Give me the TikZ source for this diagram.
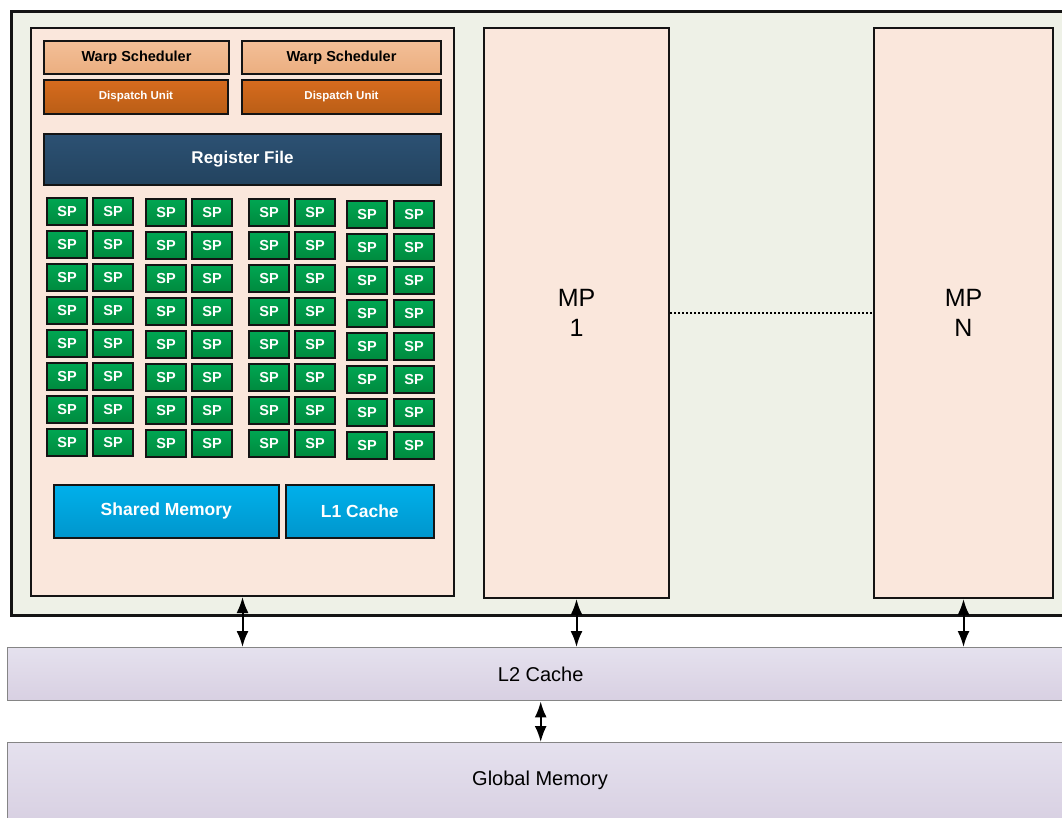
\documentclass[tikz,border=0pt]{standalone}
\usepackage{fontspec}
\setmainfont{Liberation Sans}
\usetikzlibrary{arrows.meta}

\definecolor{gpubg}{HTML}{EEF1E7}
\definecolor{mpbg}{HTML}{FAE7DC}
\definecolor{warptop}{HTML}{F3BF97}
\definecolor{warpbot}{HTML}{EBAE80}
\definecolor{disptop}{HTML}{D66B1E}
\definecolor{dispbot}{HTML}{BA5E16}
\definecolor{regtop}{HTML}{2C5173}
\definecolor{regbot}{HTML}{23435F}
\definecolor{sptop}{HTML}{00A652}
\definecolor{spbot}{HTML}{008A3E}
\definecolor{memtop}{HTML}{00B0EB}
\definecolor{membot}{HTML}{0096CC}
\definecolor{cachetop}{HTML}{E5E1EE}
\definecolor{cachebot}{HTML}{D8D0E2}
\definecolor{cacheline}{HTML}{858585}
\definecolor{edge}{HTML}{141414}

\begin{document}
\begin{tikzpicture}[x=1pt,y=-1pt,
  blk/.style={rectangle, draw=edge, line width=2pt, inner sep=0pt,
    anchor=north west, align=center},
  unit/.style={blk, top color=#1top, bottom color=#1bot},
  warp/.style={unit=warp, font=\fontsize{14.5}{16}\selectfont\bfseries},
  disp/.style={unit=disp, text=white, font=\fontsize{11.5}{13}\selectfont\bfseries},
  reg/.style={unit=reg, text=white, font=\fontsize{17}{19}\selectfont\bfseries},
  spcore/.style={unit=sp, text=white, minimum width=40, minimum height=27,
    font=\fontsize{14.5}{16}\selectfont\bfseries},
  mem/.style={unit=mem, line width=1.6pt, text=white, font=\fontsize{17.5}{19}\selectfont\bfseries},
  mp/.style={blk, fill=mpbg, font=\fontsize{25}{30}\selectfont},
  cache/.style={blk, draw=cacheline, line width=1.4pt, top color=cachetop,
    bottom color=cachebot, font=\fontsize{20}{24}\selectfont},
  link/.style={line width=2pt, {Latex[length=16pt,width=12pt]}-{Latex[length=16pt,width=12pt]}}
]
\useasboundingbox (0,0) rectangle (1062,817);
\fill[white] (0,0) rectangle (1062,817);

% GPU frame holding the multiprocessors
\node[blk, line width=2.6pt, fill=gpubg, minimum width=1070, minimum height=604] (gpu) at (10,10) {};

% multiprocessors
\node[mp, minimum width=423, minimum height=568] (mp0) at (30,27) {};
\node[mp, minimum width=185, minimum height=570] (mp1) at (483,27) {MP\\1};
\node[mp, minimum width=179, minimum height=570] (mpn) at (873,27) {MP\\N};
\draw[line width=1.6pt, dash pattern=on 2pt off 2pt] (mp1.east) -- (mpn.west);

% schedulers and dispatch units
\node[warp, minimum width=185, minimum height=33] (ws1) at (43,40) {Warp Scheduler};
\node[warp, minimum width=199, minimum height=33] (ws2) at (241,40) {Warp Scheduler};
\node[disp, minimum width=184, minimum height=34] (du1) at (43,79) {Dispatch Unit};
\node[disp, minimum width=199, minimum height=34] (du2) at (241,79) {Dispatch Unit};

% register file
\node[reg, minimum width=397, minimum height=51] (rf) at (43,133) {Register File};

% streaming processors: four groups of two columns, eight rows
\foreach \g/\xa/\xb/\ys in {1/46/92/197, 2/145/191/198, 3/248/294/198, 4/346/393/200}{
  \foreach \r in {0,...,7}{
    \node[spcore] (sp-\g-a-\r) at (\xa,\ys+33*\r) {SP};
    \node[spcore] (sp-\g-b-\r) at (\xb,\ys+33*\r) {SP};
  }
}

% on-chip memory
\node[mem, minimum width=225, minimum height=53] (smem) at (53,484) {Shared Memory};
\node[mem, minimum width=148, minimum height=53] (l1) at (285,484) {L1 Cache};

% off-chip hierarchy
\node[cache, minimum width=1066, minimum height=53] (l2) at (7,647) {L2 Cache};
\node[cache, minimum width=1066, minimum height=80] (gmem) at (7,742) {};
\node[font=\fontsize{20}{24}\selectfont] (gmemlabel) at (540,780) {Global Memory};

% links
\draw[link] (mp0.south) -- (mp0.south |- l2.north);
\draw[link] (mp1.south) -- (mp1.south |- l2.north);
\draw[link] (mpn.south) -- (mpn.south |- l2.north);
\draw[link] (l2.south) -- (gmem.north);
\end{tikzpicture}
\end{document}
